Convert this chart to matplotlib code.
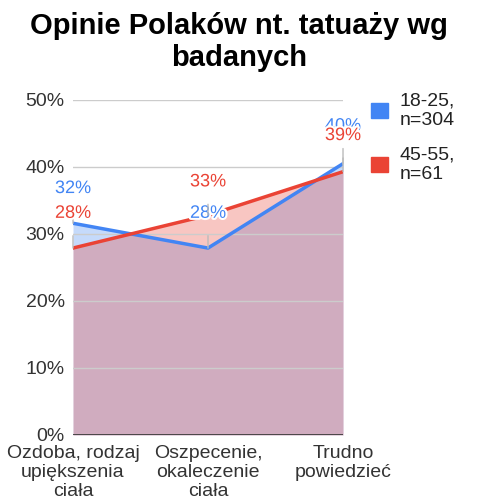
import matplotlib.pyplot as plt
import matplotlib.patheffects as pe
from matplotlib.patches import Patch

categories = ['Ozdoba, rodzaj\nupiększenia\nciała', 'Oszpecenie,\nokaleczenie\nciała', 'Trudno\npowiedzieć']
young = [31.6, 27.9, 40.5]
old = [27.9, 32.8, 39.3]
young_labels = ['32%', '28%', '40%']
old_labels = ['28%', '33%', '39%']
series_names = ['18-25,\nn=304', '45-55,\nn=61']

blue = '#4285F4'
red = '#EA4335'

plt.rcParams['font.family'] = ['Liberation Sans', 'DejaVu Sans']

fig = plt.figure(figsize=(4.78, 4.99), dpi=100)
ax = fig.add_axes([0.1527, 0.1283, 0.5649, 0.6713])

x = list(range(len(categories)))
ax.fill_between(x, 0, young, color=blue, alpha=0.3, lw=0)
ax.fill_between(x, 0, old, color=red, alpha=0.3, lw=0)
ax.plot(x, young, color=blue, lw=2.5, zorder=4)
ax.plot(x, old, color=red, lw=2.5, zorder=4)

ax.set_xlim(0, 2)
ax.set_ylim(0, 50)
ax.set_yticks([0, 10, 20, 30, 40, 50])
ax.set_yticklabels(['%d%%' % v for v in [0, 10, 20, 30, 40, 50]])
ax.set_xticks(x)
ax.set_xticklabels(categories, linespacing=1.15)
ax.grid(axis='y', color='#cccccc', lw=1)
ax.axhline(0, color='#333333', lw=1.2, zorder=5)
ax.set_axisbelow(False)
for s in ax.spines.values():
    s.set_visible(False)
ax.tick_params(length=0, labelsize=14, colors='#333333')
ax.tick_params(axis='y', pad=6)
ax.tick_params(axis='x', pad=7)

halo = [pe.withStroke(linewidth=3, foreground='white')]
young_off = [25, 25, 27]
old_off = [25, 24, 26]
stem = dict(arrowstyle='-', color='#bbbbbb', lw=1, shrinkA=8, shrinkB=0)
for i in x:
    ax.annotate(young_labels[i], (i, young[i]), xytext=(0, young_off[i]), textcoords='offset points',
                ha='center', va='center', color=blue, fontsize=13, path_effects=halo, zorder=6,
                annotation_clip=False, arrowprops=stem)
    ax.annotate(old_labels[i], (i, old[i]), xytext=(0, old_off[i]), textcoords='offset points',
                ha='center', va='center', color=red, fontsize=13, path_effects=halo, zorder=7,
                annotation_clip=False, arrowprops=stem)

handles = [Patch(color=blue), Patch(color=red)]
fig.legend(handles, series_names, loc='upper left', bbox_to_anchor=(0.74, 0.85), frameon=False,
           fontsize=14, handlelength=0.85, handleheight=0.85, labelspacing=0.9, handletextpad=0.6,
           labelcolor='#222222')

fig.suptitle('Opinie Polaków nt. tatuaży wg\nbadanych', fontsize=21, fontweight='bold',
             x=0.5, y=0.975, linespacing=1.15)

fig.savefig('out.png', dpi=100)
